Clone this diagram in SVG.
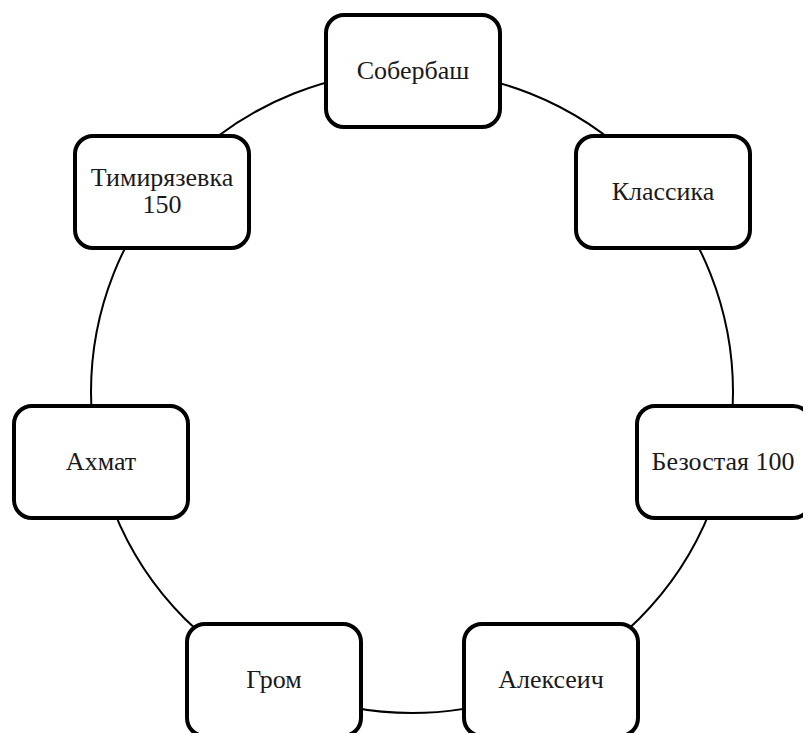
<svg xmlns="http://www.w3.org/2000/svg" width="803" height="733" viewBox="0 0 803 733">
<style>
.box{fill:#fff;stroke:#000;stroke-width:4}
.lbl{font-family:"Liberation Serif","Times New Roman",serif;font-size:26px;fill:#1a1a1a;text-anchor:middle}
.ring{fill:none;stroke:#000;stroke-width:2}
</style>
<rect width="803" height="733" fill="#fff"/>
<g id="connectors">
<circle class="ring" cx="412" cy="392" r="321"/>
</g>
<g id="n1"><rect class="box" x="326" y="15" width="174" height="112" rx="18"/><text class="lbl" x="413" y="79">Собербаш</text></g>
<g id="n2"><rect class="box" x="576" y="136" width="174" height="112" rx="18"/><text class="lbl" x="663" y="200">Классика</text></g>
<g id="n3"><rect class="box" x="637" y="406" width="174" height="112" rx="18"/><text class="lbl" x="723" y="470">Безостая 100</text></g>
<g id="n4"><rect class="box" x="464" y="624" width="174" height="112" rx="18"/><text class="lbl" x="551" y="688">Алексеич</text></g>
<g id="n5"><rect class="box" x="187" y="624" width="174" height="112" rx="18"/><text class="lbl" x="274" y="688">Гром</text></g>
<g id="n6"><rect class="box" x="14" y="406" width="174" height="112" rx="18"/><text class="lbl" x="101" y="470">Ахмат</text></g>
<g id="n7"><rect class="box" x="75" y="136" width="174" height="112" rx="18"/><text class="lbl" x="162" y="186">Тимирязевка</text><text class="lbl" x="162" y="213">150</text></g>
</svg>
